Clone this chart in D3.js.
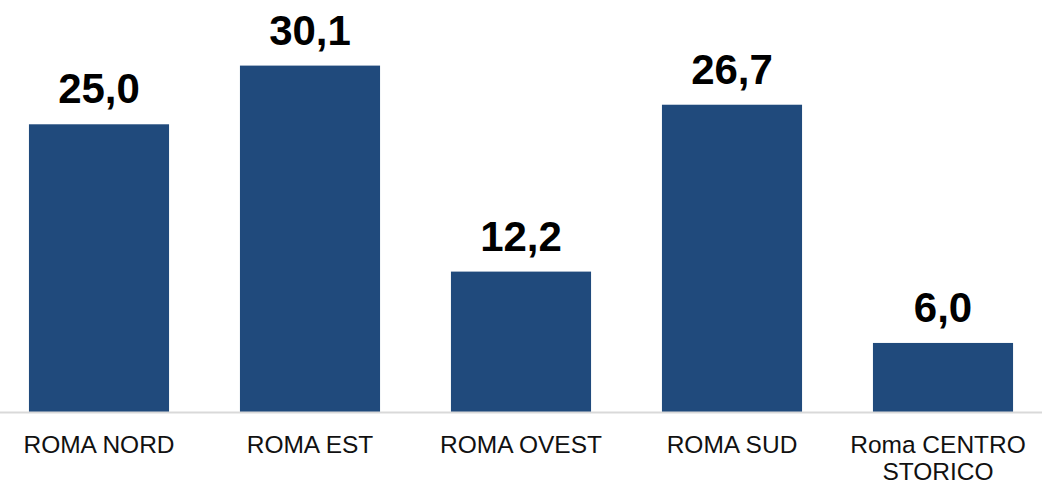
<!DOCTYPE html>
<html>
<head>
<meta charset="utf-8">
<script src="https://cdn.jsdelivr.net/npm/d3@7"></script>
<style>
  body { margin: 0; background: #fff; }
  .value-label { font-family: "Liberation Sans", Arial, sans-serif; font-weight: bold; font-size: 42px; fill: #000; }
  .cat-label { font-family: "Liberation Sans", Arial, sans-serif; font-size: 24.5px; fill: #111; }
</style>
</head>
<body>
<div class="chart"></div>
<script>
// Chart data
var categories = ["ROMA NORD", "ROMA EST", "ROMA OVEST", "ROMA SUD", "Roma CENTRO STORICO"];
var categoryLines = [["ROMA NORD"], ["ROMA EST"], ["ROMA OVEST"], ["ROMA SUD"], ["Roma CENTRO", "STORICO"]];
var values = [25.0, 30.1, 12.2, 26.7, 6.0];

var svgWidth = 1055;
var svgHeight = 484;
var baseline = 412;

var svg = d3.select(".chart")
  .append("svg")
  .attr("width", svgWidth)
  .attr("height", svgHeight);

// Scales
var xBandScale = d3.scaleBand()
  .domain(categories)
  .range([-6.5, 1048.5])
  .paddingInner(0.336)
  .paddingOuter(0.168);

var yLinearScale = d3.scaleLinear()
  .domain([0, 35.8])
  .range([baseline, 0]);

// Bars
svg.selectAll("rect.bar")
  .data(values)
  .enter()
  .append("rect")
  .attr("class", "bar")
  .attr("x", function(d, i) { return xBandScale(categories[i]); })
  .attr("y", function(d) { return yLinearScale(d); })
  .attr("width", xBandScale.bandwidth())
  .attr("height", function(d) { return baseline - yLinearScale(d); })
  .attr("fill", "#204a7c");

// Baseline axis line
svg.append("line")
  .attr("x1", 0)
  .attr("x2", 1042)
  .attr("y1", baseline + 0.5)
  .attr("y2", baseline + 0.5)
  .attr("stroke", "#d9d9d9")
  .attr("stroke-width", 2);

// Value labels
svg.selectAll("text.value-label")
  .data(values)
  .enter()
  .append("text")
  .attr("class", "value-label")
  .attr("text-anchor", "middle")
  .attr("x", function(d, i) { return xBandScale(categories[i]) + xBandScale.bandwidth() / 2; })
  .attr("y", function(d) { return yLinearScale(d) - 21; })
  .text(function(d) { return d.toFixed(1).replace(".", ","); });

// Category labels
var catText = svg.selectAll("text.cat-label")
  .data(categoryLines)
  .enter()
  .append("text")
  .attr("class", "cat-label")
  .attr("text-anchor", "middle")
  .attr("x", function(d, i) { return xBandScale(categories[i]) + xBandScale.bandwidth() / 2 - (d.length > 1 ? 5 : 0); })
  .attr("y", 453);

catText.selectAll("tspan")
  .data(function(d) { return d; })
  .enter()
  .append("tspan")
  .attr("x", function() { return d3.select(this.parentNode).attr("x"); })
  .attr("dy", function(d, i) { return i === 0 ? 0 : 27; })
  .text(function(d) { return d; });
</script>
</body>
</html>
